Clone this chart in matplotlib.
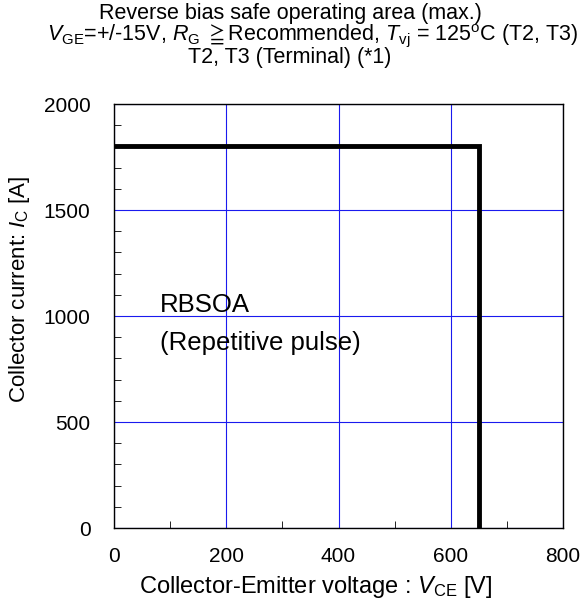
import matplotlib
matplotlib.use('Agg')
import matplotlib.pyplot as plt
from matplotlib.ticker import MultipleLocator

plt.rcParams['font.family'] = ['Liberation Sans', 'DejaVu Sans']
plt.rcParams['mathtext.fontset'] = 'custom'
plt.rcParams['mathtext.rm'] = 'Liberation Sans'
plt.rcParams['mathtext.it'] = 'Liberation Sans:italic'
plt.rcParams['mathtext.fallback'] = 'stix'

# RBSOA boundary (V_CE [V], I_C [A])
vce = [0, 650, 650]
ic = [1800, 1800, 0]

x_ticks = [0, 200, 400, 600, 800]
y_ticks = [0, 500, 1000, 1500, 2000]

fig = plt.figure(figsize=(5.81, 6.06), dpi=100)
ax = fig.add_axes([114 / 581, 1 - 528 / 606, 449 / 581, 424 / 606])

ax.plot(vce, ic, color='black', linewidth=3.5, solid_joinstyle='miter', zorder=3)

ax.set_xlim(0, 800)
ax.set_ylim(0, 2000)
ax.set_xticks(x_ticks)
ax.set_yticks(y_ticks)
ax.xaxis.set_minor_locator(MultipleLocator(100))
ax.yaxis.set_minor_locator(MultipleLocator(100))
ax.tick_params(which='both', direction='in', labelsize=15, top=False, right=False)
ax.tick_params(which='major', length=0)
ax.tick_params(axis='x', which='major', pad=14)
ax.tick_params(axis='y', which='major', pad=17)
ax.tick_params(which='minor', length=5)
ax.grid(True, which='major', color='#1a1aee', linewidth=0.8)
for s in ax.spines.values():
    s.set_linewidth(1.0)

ax.text(82, 1052, 'RBSOA', fontsize=18.5, va='center')
ax.text(82, 873, '(Repetitive pulse)', fontsize=18.5, va='center')

fig.text(316 / 581, 1 - 587 / 606, 'Collector-Emitter voltage : $V_{\\mathrm{CE}}$ [V]',
         ha='center', va='center', fontsize=17)
fig.text(20 / 581, 1 - 289 / 606, 'Collector current: $I_{\\mathrm{C}}$ [A]',
         ha='center', va='center', rotation=90, fontsize=16)

fig.text(290 / 581, 1 - 13 / 606, 'Reverse bias safe operating area (max.)',
         ha='center', va='center', fontsize=15.5)
fig.text(47 / 581, 1 - 36 / 606,
         '$V_{\\mathrm{GE}}$=+/-15V, $R_{\\mathrm{G}}$ $\\geqq$Recommended, '
         '$T_{\\mathrm{vj}}$ = 125$^{\\mathrm{o}}$C (T2, T3)',
         ha='left', va='center', fontsize=15.5)
fig.text(290 / 581, 1 - 58 / 606, 'T2, T3 (Terminal) (*1)',
         ha='center', va='center', fontsize=15.5)

fig.savefig('out.png', dpi=100)
